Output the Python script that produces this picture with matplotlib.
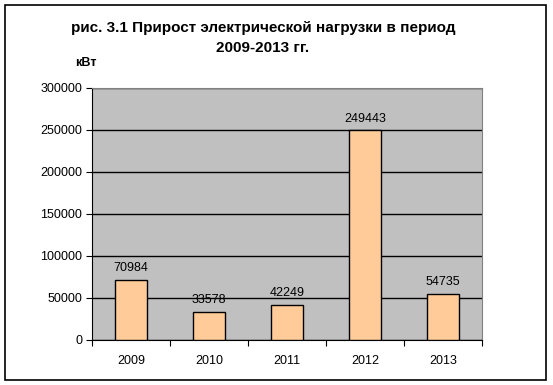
import matplotlib.pyplot as plt
from matplotlib.patches import Rectangle

years = ['2009', '2010', '2011', '2012', '2013']
values = [70984, 33578, 42249, 249443, 54735]
y_ticks = [0, 50000, 100000, 150000, 200000, 250000, 300000]

plt.rcParams['font.family'] = ['Liberation Sans', 'DejaVu Sans']

fig = plt.figure(figsize=(5.53, 3.85), dpi=100)
ax = fig.add_axes([92 / 553, 1 - 340 / 385, 390 / 553, 252 / 385])

# outer frame of the chart
fig.patches.append(Rectangle((5 / 553, 1 - 380 / 385), 541 / 553, 375 / 385,
                             transform=fig.transFigure, fill=False,
                             edgecolor='black', linewidth=1.2))

ax.set_facecolor('#c0c0c0')
x = range(len(years))
bars = ax.bar(x, values, width=0.41, color='#ffcc99', edgecolor='black',
              linewidth=1, zorder=3)
for xi, v in zip(x, values):
    ax.text(xi, v + 7000, str(v), ha='center', va='bottom', fontsize=9, zorder=4)

ax.set_xlim(-0.5, len(years) - 0.5)
ax.set_ylim(0, 300000)
ax.set_yticks(y_ticks)
ax.set_yticklabels([str(t) for t in y_ticks], fontsize=9)
ax.yaxis.grid(True, color='black', linewidth=1, zorder=1)
ax.set_axisbelow(True)

ax.set_xticks([i - 0.5 for i in range(len(years) + 1)])
ax.set_xticklabels([])
ax.set_xticks(list(x), minor=True)
ax.set_xticklabels(years, minor=True, fontsize=9)
ax.tick_params(axis='x', which='minor', length=0, pad=11)
ax.tick_params(axis='x', which='major', length=4, direction='out')
ax.tick_params(axis='y', length=4, direction='out', pad=3)

for s in ['top', 'right']:
    ax.spines[s].set_color('#808080')
ax.spines['left'].set_color('black')
ax.spines['bottom'].set_color('black')

fig.text(263 / 553, 1 - 28 / 385, 'рис. 3.1 Прирост электрической нагрузки в период',
         ha='center', va='center', fontsize=11, fontweight='bold')
fig.text(263 / 553, 1 - 48 / 385, '2009-2013 гг.',
         ha='center', va='center', fontsize=11, fontweight='bold')
fig.text(86 / 553, 1 - 63 / 385, 'кВт', ha='center', va='center', fontsize=9, fontweight='bold')

fig.savefig('out.png', dpi=100)
